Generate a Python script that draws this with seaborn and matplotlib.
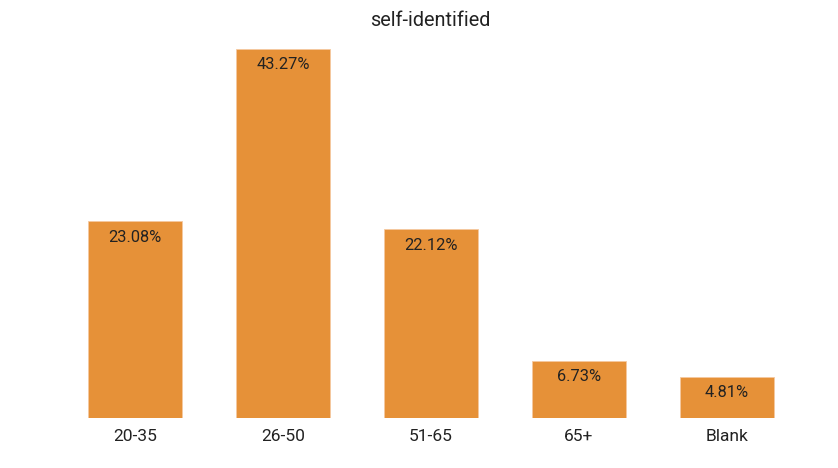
import matplotlib
matplotlib.use('Agg')
import matplotlib.pyplot as plt
import seaborn as sns
import pandas as pd

categories = ['20-35', '26-50', '51-65', '65+', 'Blank']
percent = [23.08, 43.27, 22.12, 6.73, 4.81]
labels = ['23.08%', '43.27%', '22.12%', '6.73%', '4.81%']

sns.set_style('white')
plt.rcParams['font.family'] = ['Roboto', 'DejaVu Sans']

df = pd.DataFrame({'age': categories, 'pct': percent})

fig = plt.figure(figsize=(8.38, 4.68), dpi=100)
W, H = 838, 468
ax = fig.add_axes([61 / W, 50 / H, 740 / W, (418 - 34) / H])
sns.barplot(data=df, x='age', y='pct', color='#E69138', saturation=1,
            width=0.64, ax=ax, edgecolor='#F5C9A0', linewidth=0.6)
ax.set_ylim(0, 45)
ax.set_xlim(-0.5, 4.5)

# value labels just inside the top of each bar
for p, lab in zip(ax.patches, labels):
    ax.annotate(lab, (p.get_x() + p.get_width() / 2, p.get_height()),
                xytext=(0, -16), textcoords='offset pixels',
                ha='center', va='center', fontsize=11.8, color='#222222')

ax.set_xlabel('')
ax.set_ylabel('')
ax.set_yticks([])
ax.tick_params(axis='x', length=0, labelsize=12.5, colors='#222222', pad=8)
sns.despine(ax=ax, left=True, bottom=True)
fig.text(430 / W, 1 - 20 / H, 'self-identified', ha='center', va='center',
         fontsize=14.3, color='#222222')

fig.savefig('out.png', dpi=100)
